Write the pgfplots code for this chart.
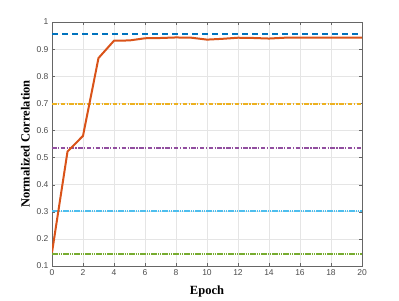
\documentclass[border=0pt]{standalone}
\usepackage{pgfplots}
\pgfplotsset{compat=1.18}
\usepackage{fontspec}
\setmainfont{Liberation Serif}
\newfontfamily\tickfont{Liberation Sans}
\definecolor{mblue}{RGB}{0,114,189}
\definecolor{morange}{RGB}{217,83,25}
\definecolor{myellow}{RGB}{237,177,32}
\definecolor{mpurple}{RGB}{126,47,142}
\definecolor{mgreen}{RGB}{119,172,48}
\definecolor{skyc}{RGB}{77,190,238}
\begin{document}
\begin{tikzpicture}
\begin{axis}[
  scale only axis, width=310pt, height=244pt,
  xmin=0, xmax=20, ymin=0.1, ymax=1,
  xtick={0,2,...,20}, ytick={0.1,0.2,...,1.0},
  yticklabels={0.1,0.2,0.3,0.4,0.5,0.6,0.7,0.8,0.9,1},
  /pgf/number format/assume math mode=true,
  tick label style={font=\tickfont\fontsize{8.5}{9}\selectfont, text=black!70},
  tick align=inside, major tick length=3pt,
  tick style={black!60},
  axis line style={black!60},
  grid=major, grid style={black!10, line width=0.6pt},
  xlabel={\textbf{Epoch}}, ylabel={\textbf{Normalized Correlation}},
  label style={font=\fontsize{12.5}{14}\selectfont},
  xlabel style={yshift=-3pt},
  ylabel style={yshift=0pt},
  clip=true,
]
\addplot[draw=mblue, line width=2pt, dash pattern=on 6pt off 4pt] coordinates {(0,0.957) (20,0.957)};
\addplot[draw=myellow, line width=1.8pt, dash pattern=on 4.5pt off 1.5pt on 1.2pt off 1.5pt] coordinates {(0,0.697) (20,0.697)};
\addplot[draw=mpurple!85, line width=1.8pt, dash pattern=on 4.5pt off 1.5pt on 1.2pt off 1.5pt] coordinates {(0,0.535) (20,0.535)};
\addplot[color=skyc, line width=1.6pt, dash pattern=on 1.6pt off 0.6pt] coordinates {(0,0.302) (20,0.302)};
\addplot[color=mgreen, line width=1.6pt, dash pattern=on 1.6pt off 0.6pt] coordinates {(0,0.144) (20,0.144)};
\addplot[draw=morange, line width=2pt] coordinates {
(0,0.15) (1,0.522) (2,0.58) (3,0.867) (4,0.931) (5,0.932) (6,0.940) (7,0.941) (8,0.943) (9,0.942) (10,0.935) (11,0.938) (12,0.942) (13,0.941) (14,0.939) (15,0.942) (16,0.942) (17,0.942) (18,0.942) (19,0.942) (20,0.942)};
\end{axis}
\path[use as bounding box] (-52pt,-33pt) rectangle (347pt,266pt);
\end{tikzpicture}
\end{document}
